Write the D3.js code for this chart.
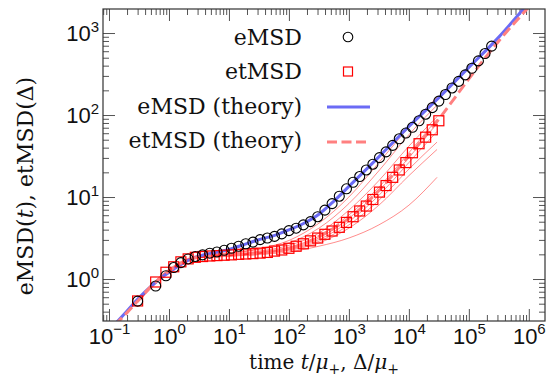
<!DOCTYPE html>
<html>
<head>
<meta charset="utf-8">
<script src="https://cdn.jsdelivr.net/npm/d3@7"></script>
<style>
  body { margin: 0; background: #fff; }
  svg { display: block; font-family: "DejaVu Serif", serif; }
</style>
</head>
<body>
<div id="chart"></div>
<script>
// lag times of the markers (t / mu+)
const tLag = [0.30, 0.60, 0.89, 1.20, 1.58, 2.09, 2.75, 3.63, 4.79, 6.31,
  8.32, 11.0, 14.5, 19.1, 25.1, 33.1, 43.7, 57.5, 75.9, 100,
  132, 174, 229, 302, 398, 525, 692, 912, 1175, 1514,
  1950, 2512, 3236, 4169, 5370, 6918, 8913, 11480, 14790, 19050,
  24550, 31620, 40740, 52480, 67610, 87100, 112200, 144500, 186200, 239900];

const emsd = [0.537, 0.822, 1.096, 1.380, 1.585, 1.758, 1.884, 1.972, 2.065, 2.138,
  2.239, 2.371, 2.512, 2.692, 2.818, 3.020, 3.162, 3.311, 3.548, 3.890,
  4.169, 4.571, 5.012, 5.754, 6.918, 8.318, 10.23, 12.59, 15.14, 17.78,
  21.38, 25.12, 30.20, 35.48, 42.66, 51.29, 60.26, 70.79, 85.11, 102.3,
  123.0, 147.9, 177.8, 213.8, 257.0, 309.0, 371.5, 457.1, 562.3, 691.8];

const etmsd = [0.54, 0.92, 1.21, 1.41, 1.62, 1.76, 1.84, 1.88, 1.91, 1.93,
  1.95, 1.97, 2.00, 2.02, 2.04, 2.07, 2.11, 2.19, 2.26, 2.37,
  2.51, 2.69, 2.92, 3.16, 3.51, 3.85, 4.27, 4.90, 5.75, 6.76,
  7.76, 9.33, 11.48, 13.80, 17.38, 21.38, 26.30, 34.67, 44.67, 53.70,
  66.07, 85.11];

// theory curves
const tTheory = [0.126, 0.2, 0.316, 0.501, 0.794, 1.259, 1.995, 3.162, 5.623, 10,
  17.78, 31.62, 56.23, 100, 177.8, 316.2, 562.3, 1000, 3162, 10000,
  31620, 100000, 316200, 1000000, 2000000];
const emsdTheory = [0.282, 0.407, 0.589, 0.813, 1.072, 1.349, 1.660, 1.905, 2.089, 2.291,
  2.630, 3.020, 3.388, 3.981, 4.786, 6.166, 8.913, 13.49, 30.90, 72.44,
  162.2, 380.2, 891.3, 2344, 4169];
const etmsdTheory = [0.275, 0.389, 0.562, 0.813, 1.096, 1.413, 1.698, 1.841, 1.905, 1.950,
  1.995, 2.042, 2.138, 2.344, 2.692, 3.311, 4.169, 5.495, 12.02, 31.62,
  89.13, 275.4, 800.0, 2090, 3802];

// single trajectory time averaged MSDs
const tTraj = [0.3, 1, 3.16, 10, 31.6, 100, 316, 1000, 3162, 10000, 29500];
const trajectories = [
  [0.562, 1.318, 1.950, 2.089, 2.344, 2.951, 4.786, 10.0, 26.30, 70.79, 166.0],
  [0.550, 1.288, 1.905, 2.042, 2.291, 2.754, 4.169, 8.318, 20.89, 57.54, 131.8],
  [0.537, 1.259, 1.905, 1.995, 2.188, 2.570, 3.631, 6.918, 15.85, 41.69, 95.50],
  [0.537, 1.259, 1.862, 1.950, 2.138, 2.455, 3.311, 6.026, 13.18, 34.67, 89.13],
  [0.537, 1.259, 1.862, 1.950, 2.089, 2.399, 3.162, 5.495, 12.02, 30.20, 79.43],
  [0.525, 1.230, 1.862, 1.950, 2.089, 2.344, 3.020, 5.012, 10.47, 26.30, 63.10],
  [0.525, 1.230, 1.820, 1.905, 2.042, 2.291, 2.884, 4.571, 9.120, 21.88, 46.77],
  [0.525, 1.230, 1.820, 1.905, 2.042, 2.239, 2.754, 4.169, 7.943, 18.20, 38.02],
  [0.513, 1.202, 1.820, 1.905, 1.995, 2.138, 2.512, 3.162, 4.571, 7.943, 17.38]
];

const xTickExps = [-1, 0, 1, 2, 3, 4, 5, 6];
const yTickExps = [0, 1, 2, 3];
const legendLabels = ["eMSD", "etMSD", "eMSD (theory)", "etMSD (theory)"];

const chartWidth = 550, chartHeight = 388;
const margin = { top: 9, right: 5, bottom: 67, left: 103 };
const width = chartWidth - margin.left - margin.right;
const height = chartHeight - margin.top - margin.bottom;

const blue = "#6b6bf5", pink = "#ff8080";

const svg = d3.select("#chart").append("svg")
    .attr("width", chartWidth)
    .attr("height", chartHeight)
  .append("g")
    .attr("transform", `translate(${margin.left},${margin.top})`);

const x = d3.scaleLog().domain([Math.pow(10, -1.1), Math.pow(10, 6.27)]).range([0, width]);
const y = d3.scaleLog().domain([Math.pow(10, -0.512), Math.pow(10, 3.293)]).range([height, 0]);

svg.append("clipPath").attr("id", "clip")
  .append("rect").attr("width", width).attr("height", height);

const minor = (scale) => scale.ticks().filter(v => Math.abs(Math.log10(v) - Math.round(Math.log10(v))) > 1e-6);

function styleAxis(g) {
  g.select(".domain").remove();
  g.selectAll(".tick line").attr("stroke", "#555").attr("stroke-width", 1);
}

function supLabels(g, exps, sup) {
  g.selectAll(".tick text").each(function(d, i) {
    const t = d3.select(this).text(null).attr("font-size", 22).attr("fill", "#111");
    t.append("tspan").text("10");
    t.append("tspan").attr("font-size", 15).attr("dy", sup)
      .text(String(exps[i]).replace("-", "\u2212"));
  });
}

// bottom axis
svg.append("g").attr("transform", `translate(0,${height})`)
  .call(d3.axisBottom(x).tickValues(minor(x)).tickSize(-6).tickFormat(""))
  .call(styleAxis);
svg.append("g").attr("transform", `translate(0,${height})`)
  .call(d3.axisBottom(x).tickValues(xTickExps.map(e => Math.pow(10, e))).tickSize(-12))
  .call(styleAxis)
  .call(g => g.selectAll(".tick text").attr("y", 23).attr("dy", 0))
  .call(g => supLabels(g, xTickExps, -10));
// top axis
svg.append("g")
  .call(d3.axisTop(x).tickValues(minor(x)).tickSize(-6).tickFormat(""))
  .call(styleAxis);
svg.append("g")
  .call(d3.axisTop(x).tickValues(xTickExps.map(e => Math.pow(10, e))).tickSize(-12).tickFormat(""))
  .call(styleAxis);
// left axis
svg.append("g")
  .call(d3.axisLeft(y).tickValues(minor(y)).tickSize(-6).tickFormat(""))
  .call(styleAxis);
svg.append("g")
  .call(d3.axisLeft(y).tickValues(yTickExps.map(e => Math.pow(10, e))).tickSize(-12).tickPadding(4))
  .call(styleAxis)
  .call(g => g.selectAll(".tick text").attr("dy", 0).attr("y", 7))
  .call(g => supLabels(g, yTickExps, -9));
// right axis
svg.append("g").attr("transform", `translate(${width},0)`)
  .call(d3.axisRight(y).tickValues(minor(y)).tickSize(-6).tickFormat(""))
  .call(styleAxis);
svg.append("g").attr("transform", `translate(${width},0)`)
  .call(d3.axisRight(y).tickValues(yTickExps.map(e => Math.pow(10, e))).tickSize(-12).tickFormat(""))
  .call(styleAxis);

const plot = svg.append("g").attr("clip-path", "url(#clip)");

const line = d3.line()
  .x(d => x(d[0]))
  .y(d => y(d[1]))
  .curve(d3.curveMonotoneX);

// trajectories
plot.selectAll(".traj")
  .data(trajectories)
  .enter().append("path")
  .attr("class", "traj")
  .attr("d", d => line(d.map((v, i) => [tTraj[i], v])))
  .attr("fill", "none")
  .attr("stroke", "#ff0000")
  .attr("stroke-opacity", 0.45)
  .attr("stroke-width", 1);

// theory
plot.append("path")
  .attr("d", line(tTheory.map((t, i) => [t, emsdTheory[i]])))
  .attr("fill", "none")
  .attr("stroke", blue)
  .attr("stroke-width", 3);

plot.append("path")
  .attr("d", line(tTheory.map((t, i) => [t, etmsdTheory[i]])))
  .attr("fill", "none")
  .attr("stroke", pink)
  .attr("stroke-width", 3)
  .attr("stroke-dasharray", "10,4.5");

// markers
plot.selectAll(".sq")
  .data(etmsd)
  .enter().append("rect")
  .attr("class", "sq")
  .attr("x", (d, i) => x(tLag[i]) - 5)
  .attr("y", d => y(d) - 5)
  .attr("width", 10)
  .attr("height", 10)
  .attr("fill", "none")
  .attr("stroke", "#ff0000")
  .attr("stroke-width", 1.2);

plot.selectAll(".circ")
  .data(emsd)
  .enter().append("circle")
  .attr("class", "circ")
  .attr("cx", (d, i) => x(tLag[i]))
  .attr("cy", d => y(d))
  .attr("r", 5)
  .attr("fill", "none")
  .attr("stroke", "#000")
  .attr("stroke-width", 1.1);

// frame
svg.append("rect")
  .attr("width", width)
  .attr("height", height)
  .attr("fill", "none")
  .attr("stroke", "#333")
  .attr("stroke-width", 1.2);

// legend
const legend = svg.append("g");
legendLabels.forEach((lab, i) => {
  legend.append("text")
    .attr("x", 199)
    .attr("y", 36 + i * 34.4)
    .attr("text-anchor", "end")
    .attr("font-size", 22)
    .attr("fill", "#111")
    .text(lab);
});
legend.append("circle").attr("cx", 245).attr("cy", 28).attr("r", 4.8)
  .attr("fill", "none").attr("stroke", "#000").attr("stroke-width", 1.1);
legend.append("rect").attr("x", 240.5).attr("y", 58).attr("width", 9).attr("height", 9)
  .attr("fill", "none").attr("stroke", "#ff0000").attr("stroke-width", 1.2);
legend.append("line").attr("x1", 224).attr("x2", 267).attr("y1", 98).attr("y2", 98)
  .attr("stroke", blue).attr("stroke-width", 3);
legend.append("line").attr("x1", 224).attr("x2", 267).attr("y1", 133).attr("y2", 133)
  .attr("stroke", pink).attr("stroke-width", 3).attr("stroke-dasharray", "10,4.5");

// axis labels
const xl = svg.append("text")
  .attr("x", width / 2)
  .attr("y", 360)
  .attr("text-anchor", "middle")
  .attr("font-size", 20)
  .attr("fill", "#111");
xl.append("tspan").text("time ");
xl.append("tspan").attr("font-style", "italic").text("t");
xl.append("tspan").text("/");
xl.append("tspan").attr("font-style", "italic").text("\u03bc");
xl.append("tspan").attr("font-size", 14).attr("dy", 5).text("+");
xl.append("tspan").attr("dy", -5).text(", \u0394/");
xl.append("tspan").attr("font-style", "italic").text("\u03bc");
xl.append("tspan").attr("font-size", 14).attr("dy", 5).text("+");

const yl = svg.append("text")
  .attr("transform", `translate(${-78},${177}) rotate(-90)`)
  .attr("text-anchor", "middle")
  .attr("dy", "0.35em")
  .attr("font-size", 22)
  .attr("fill", "#111");
yl.append("tspan").text("eMSD(");
yl.append("tspan").attr("font-style", "italic").text("t");
yl.append("tspan").text("), etMSD(\u0394)");
</script>
</body>
</html>
